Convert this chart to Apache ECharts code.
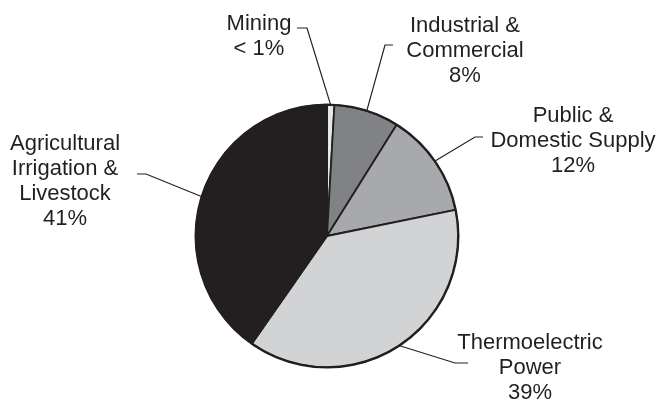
<!DOCTYPE html>
<html>
<head>
<meta charset="utf-8">
<script src="https://cdn.jsdelivr.net/npm/echarts@6/dist/echarts.min.js"></script>
<style>html,body{margin:0;padding:0;background:#fff}#c{width:657px;height:400px}</style>
</head>
<body>
<div id="c"></div>
<script>
// ---- data ----
const categories = ['Mining', 'Industrial &\nCommercial', 'Public &\nDomestic Supply', 'Thermoelectric\nPower', 'Agricultural\nIrrigation &\nLivestock'];
const values = [0.9, 8, 12.9, 37.9, 40.3];
const pctLabels = ['< 1%', '8%', '12%', '39%', '41%'];

// ---- styling / layout (kept separate from data) ----
const colors = ['#e6e7e8', '#808285', '#a7a9ac', '#d1d3d4', '#231f20'];
const CX = 327, CY = 236, R = 131;
// label block: center x, top y; leader bend point and end point
const labelPos = [
  {x: 259, y: 11,  bend: [307, 28],  end: [297, 28]},
  {x: 465, y: 13,  bend: [385, 45],  end: [393, 45]},
  {x: 573, y: 103, bend: [475, 137], end: [483, 137]},
  {x: 530, y: 330, bend: [455, 363], end: [468, 363]},
  {x: 65,  y: 131, bend: [146, 174], end: [137, 174]}
];

const chart = echarts.init(document.getElementById('c'), null, {renderer: 'canvas'});
const seriesData = categories.map((c, i) => ({
  name: c, value: values[i], pct: pctLabels[i],
  itemStyle: {color: colors[i]}
}));

chart.setOption({
  animation: false,
  textStyle: {fontFamily: 'Liberation Sans, Arial, sans-serif'},
  series: [
    {
      type: 'pie',
      center: [CX, CY],
      radius: R,
      startAngle: 90,
      clockwise: true,
      avoidLabelOverlap: false,
      silent: true,
      itemStyle: {borderColor: '#231f20', borderWidth: 1.8},
      label: {
        show: true,
        position: 'outside',
        formatter: p => p.name + '\n' + p.data.pct,
        fontFamily: 'Liberation Sans, Arial, sans-serif',
        fontSize: 22,
        lineHeight: 25,
        color: '#231f20',
        align: 'center'
      },
      labelLine: {show: true, lineStyle: {color: '#231f20', width: 1.2}},
      labelLayout: function (params) {
        const lp = labelPos[params.dataIndex];
        let start;
        if (params.labelLinePoints && params.labelLinePoints[0]) {
          start = params.labelLinePoints[0];
        } else {
          start = [CX, CY];
        }
        return {
          x: lp.x, y: lp.y, align: 'center', verticalAlign: 'top',
          labelLinePoints: [start, lp.bend, lp.end]
        };
      },
      data: seriesData
    },
    {
      type: 'pie',
      center: [CX, CY],
      radius: [R - 0.5, R + 1.5],
      silent: true,
      label: {show: false},
      labelLine: {show: false},
      itemStyle: {color: '#231f20'},
      data: [{value: 1, name: 'ring'}]
    }
  ]
});
</script>
</body>
</html>
